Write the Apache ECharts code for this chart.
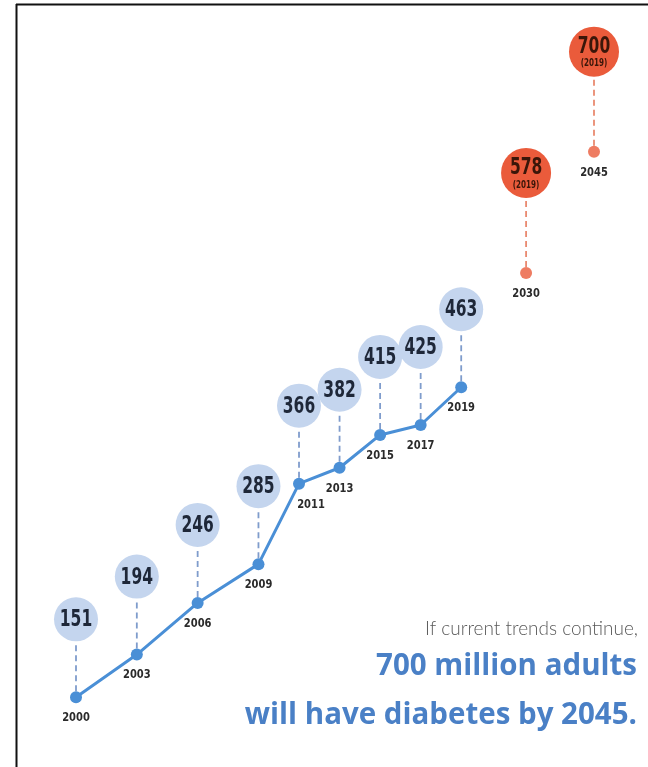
<!DOCTYPE html>
<html>
<head>
<meta charset="utf-8">
<script src="https://cdn.jsdelivr.net/npm/echarts@6/dist/echarts.min.js"></script>
<style>
  html, body { margin: 0; padding: 0; background: #fff; }
  #chart { width: 648px; height: 767px; }
</style>
</head>
<body>
<div id="chart"></div>
<script>
// reported adults with diabetes (millions)
const years = [2000, 2003, 2006, 2009, 2011, 2013, 2015, 2017, 2019];
const adults = [151, 194, 246, 285, 366, 382, 415, 425, 463];
// projections, made in 2019
const projYears = [2030, 2045];
const projAdults = [578, 700];
const projNote = '(2019)';

const blue = '#4a8fd6';
const orange = '#ea5b3b';
const numFont = '"DejaVu Sans Condensed", sans-serif';

const lineData = years.map((y, i) => [y, adults[i]]);
const projData = projYears.map((y, i) => [y, projAdults[i]]);
const bubbleData = lineData.map(d => [d[0], d[1], 0]).concat(projData.map(d => [d[0], d[1], 1]));

function renderBubble(params, api) {
  const pt = api.coord([api.value(0), api.value(1)]);
  const proj = api.value(2) === 1;
  const lift = proj ? 100 : 78;
  const r = proj ? 25 : 22;
  const cy = pt[1] - lift;
  const ink = proj ? '#3a1609' : '#1e2738';
  // the year sits a little to the right where the line climbs steeply
  const yearDx = api.value(0) === 2011 ? 12 : 0;
  const children = [
    {
      type: 'line',
      shape: { x1: pt[0], y1: pt[1] - 6, x2: pt[0], y2: cy + r },
      style: { stroke: proj ? '#e98a70' : '#7f9ccc', lineWidth: 1.8, lineDash: [6, 4] }
    },
    {
      type: 'circle',
      shape: { cx: pt[0], cy: cy, r: r },
      style: { fill: proj ? orange : '#c4d5ee' }
    },
    {
      type: 'text',
      x: pt[0], y: proj ? cy - 5 : cy + 1,
      scaleX: 0.75,
      style: {
        text: String(api.value(1)),
        fill: ink,
        font: 'bold 23px ' + numFont,
        align: 'center', verticalAlign: 'middle'
      }
    },
    {
      type: 'text',
      x: pt[0] + yearDx, y: pt[1] + 14,
      scaleX: 0.85,
      style: {
        text: String(api.value(0)),
        fill: '#2a2a2a',
        font: 'bold 13px ' + numFont,
        align: 'center', verticalAlign: 'top'
      }
    }
  ];
  if (proj) {
    children.push({
      type: 'text',
      x: pt[0], y: cy + 12,
      scaleX: 0.8,
      style: {
        text: projNote,
        fill: ink,
        font: 'bold 10px ' + numFont,
        align: 'center', verticalAlign: 'middle'
      }
    });
  }
  return { type: 'group', children: children };
}

const chart = echarts.init(document.getElementById('chart'));
chart.setOption({
  animation: false,
  backgroundColor: '#fff',
  grid: { left: 76, right: 54, top: 102, bottom: 19 },
  xAxis: {
    type: 'value',
    min: 2000,
    max: 2045,
    show: false,
    splitLine: { show: false },
    breaks: [
      { start: 2020, end: 2029, gap: 1.2 },
      { start: 2031, end: 2044, gap: 1.35 }
    ],
    breakArea: { show: false }
  },
  yAxis: { type: 'value', min: 100, max: 750, show: false, splitLine: { show: false } },
  graphic: [
    { type: 'line', shape: { x1: 16, y1: 4.5, x2: 648, y2: 4.5 }, style: { stroke: '#111', lineWidth: 2 } },
    { type: 'line', shape: { x1: 16.5, y1: 4, x2: 16.5, y2: 767 }, style: { stroke: '#111', lineWidth: 2 } },
    {
      type: 'text', right: 10, top: 619,
      style: { text: 'If current trends continue,', font: '300 19px Lato', fill: '#5a5a5a', align: 'right' }
    },
    {
      type: 'text', right: 11, top: 652,
      style: { text: '700 million adults', font: 'bold 29.5px "Open Sans"', fill: '#4a80c6', align: 'right' }
    },
    {
      type: 'text', right: 11, top: 701,
      style: { text: 'will have diabetes by 2045.', font: 'bold 29.5px "Open Sans"', fill: '#4a80c6', align: 'right' }
    }
  ],
  series: [
    {
      type: 'custom',
      renderItem: renderBubble,
      data: bubbleData,
      z: 1
    },
    {
      type: 'line',
      data: lineData,
      symbol: 'circle',
      symbolSize: 12,
      lineStyle: { color: blue, width: 3 },
      itemStyle: { color: blue },
      z: 3
    },
    {
      type: 'scatter',
      data: projData,
      symbol: 'circle',
      symbolSize: 12,
      itemStyle: { color: orange },
      z: 3
    }
  ]
});
</script>
</body>
</html>
